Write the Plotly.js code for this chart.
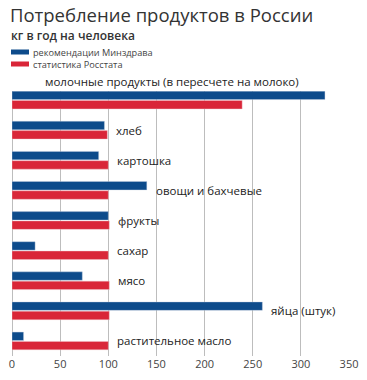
<!DOCTYPE html>
<html>
<head>
<meta charset="utf-8">
<script src="https://cdn.plot.ly/plotly-3.0.1.min.js"></script>
<style>
html,body{margin:0;padding:0;background:#fff;}
#chart{width:367px;height:380px;}
</style>
</head>
<body>
<div id="chart"></div>
<script>
// ---- data ----
const categories = [
  "молочные продукты (в пересчете на молоко)",
  "хлеб",
  "картошка",
  "овощи и бахчевые",
  "фрукты",
  "сахар",
  "мясо",
  "яйца (штук)",
  "растительное масло"
];
const seriesNames = ["рекомендации Минздрава", "статистика Росстата"];
const recommended = [325, 96, 90, 140, 100, 24, 73, 260, 12];
const rosstat = [239, 99, 100, 100, 101, 100, 101, 101, 100];
const xTickVals = [0, 50, 100, 150, 200, 250, 300, 350];

// ---- layout helpers ----
const W = 367, H = 380;
const M = {l: 12, r: 17, t: 91, b: 24};
const PW = W - M.l - M.r, PH = H - M.t - M.b;
const px2paperX = px => (px - M.l) / PW;
const px2paperY = py => (H - M.b - py) / PH;

const blue = "#0d4b8b";
const red = "#d92638";
const font = "'Open Sans', 'Noto Sans', sans-serif";

const traces = [
  {type: "bar", orientation: "h", name: seriesNames[0], y: categories, x: recommended,
   marker: {color: blue, line: {color: "rgba(200,210,225,0.8)", width: 0.5}}, showlegend: false, hoverinfo: "x"},
  {type: "bar", orientation: "h", name: seriesNames[1], y: categories, x: rosstat,
   marker: {color: red, line: {color: "rgba(240,200,205,0.8)", width: 0.5}}, showlegend: false, hoverinfo: "x"}
];

const annotations = categories.map((c, i) => {
  if (i === 0) {
    return {x: 33, y: c, xref: "x", yref: "y", text: c, showarrow: false,
      xanchor: "left", yanchor: "middle", yshift: 19, borderpad: 0,
      font: {family: font, size: 11.5, color: "#222"}};
  }
  return {x: Math.max(recommended[i], rosstat[i]), y: c, xref: "x", yref: "y", text: c,
    showarrow: false, xanchor: "left", yanchor: "middle", xshift: 8, borderpad: 0,
    font: {family: font, size: 11.5, color: "#222"}};
});

// subtitle
annotations.push({xref: "paper", yref: "paper", x: px2paperX(10), y: px2paperY(35),
  xanchor: "left", yanchor: "middle", showarrow: false, text: "кг в год на человека", borderpad: 0,
  font: {family: font, size: 12, color: "#333", weight: 600}});

// legend (manual, compact)
const legendColors = [blue, red];
const legendY = [52, 64];
const shapes = [];
seriesNames.forEach((n, i) => {
  shapes.push({type: "rect", xref: "paper", yref: "paper",
    x0: px2paperX(11), x1: px2paperX(29),
    y0: px2paperY(legendY[i] - 2.5), y1: px2paperY(legendY[i] + 2.5),
    fillcolor: legendColors[i], line: {width: 0}});
  annotations.push({xref: "paper", yref: "paper", x: px2paperX(32), y: px2paperY(legendY[i]),
    xanchor: "left", yanchor: "middle", showarrow: false, text: n, borderpad: 0,
    font: {family: font, size: 9.2, color: "#444"}});
});

const layout = {
  width: W, height: H,
  margin: M,
  paper_bgcolor: "#fff", plot_bgcolor: "#fff",
  title: {text: "Потребление продуктов в России", xref: "container", yref: "container",
    x: 10 / W, xanchor: "left", y: 1 - 16 / H, yanchor: "middle",
    font: {family: font, size: 18.5, color: "#333"}},
  barmode: "group", bargap: 0.38, bargroupgap: 0.1,
  showlegend: false,
  xaxis: {range: [0, 351], tickvals: xTickVals, showgrid: true, gridcolor: "#bdbdbd", gridwidth: 1,
    zeroline: true, zerolinecolor: "#bdbdbd", zerolinewidth: 1, showline: false,
    ticks: "", tickfont: {family: font, size: 11, color: "#444"}, fixedrange: true},
  yaxis: {type: "category", range: [8.5, -0.3], showticklabels: false, showgrid: false,
    zeroline: false, ticks: "", fixedrange: true},
  annotations: annotations,
  shapes: shapes
};

Plotly.newPlot("chart", traces, layout, {displayModeBar: false, staticPlot: true});
</script>
</body>
</html>
